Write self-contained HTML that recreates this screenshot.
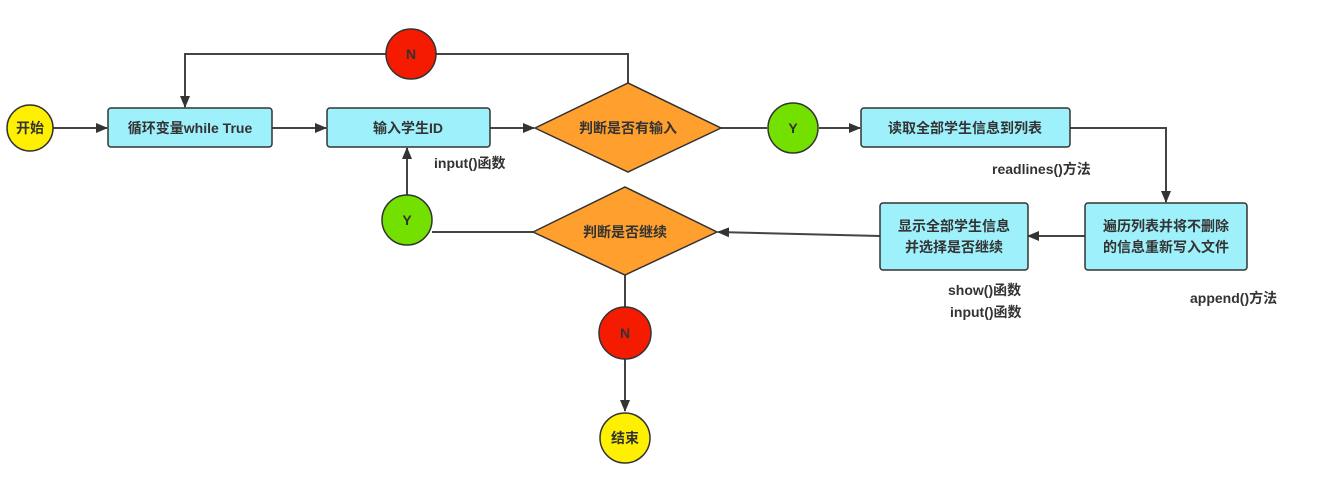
<!DOCTYPE html>
<html><head><meta charset="utf-8"><style>
html,body{margin:0;padding:0;background:#fff;}
svg{display:block;}
text{font-family:"Liberation Sans","Noto Sans CJK SC",sans-serif;font-size:14px;fill:#333;font-weight:bold;}
</style></head><body>
<svg width="1334" height="494" viewBox="0 0 1334 494" xmlns="http://www.w3.org/2000/svg">
<defs><marker id="a" markerWidth="12" markerHeight="10" refX="11" refY="5" orient="auto" markerUnits="userSpaceOnUse"><path d="M0,0 L12,5 L0,10 z" fill="#333"/></marker></defs>
<g stroke="#444" stroke-width="2" fill="none">
<line x1="53" y1="128" x2="107" y2="128" marker-end="url(#a)"/>
<line x1="272" y1="128" x2="326" y2="128" marker-end="url(#a)"/>
<line x1="490" y1="128" x2="534" y2="128" marker-end="url(#a)"/>
<polyline points="628,83 628,54 185,54 185,107" marker-end="url(#a)"/>
<line x1="721" y1="128" x2="767" y2="128"/>
<line x1="819" y1="128" x2="860" y2="128" marker-end="url(#a)"/>
<polyline points="1070,128 1166,128 1166,202" marker-end="url(#a)"/>
<line x1="1085" y1="236" x2="1028" y2="236" marker-end="url(#a)"/>
<line x1="880" y1="236" x2="718" y2="232" marker-end="url(#a)"/>
<line x1="533" y1="232" x2="432" y2="232"/>
<line x1="407" y1="195" x2="407" y2="148" marker-end="url(#a)"/>
<line x1="625" y1="275" x2="625" y2="307"/>
<line x1="625" y1="359" x2="625" y2="411" marker-end="url(#a)"/>
</g>
<g stroke="#333" stroke-width="1.5">
<circle cx="30" cy="128" r="23" fill="#ffef00"/>
<rect x="108" y="108" width="164" height="39" rx="3" fill="#9ef0fb"/>
<rect x="327" y="108" width="163" height="39" rx="3" fill="#9ef0fb"/>
<polygon points="535,128 628,83 721,128 628,172" fill="#ff9f2e"/>
<circle cx="411" cy="54" r="25" fill="#f41b00"/>
<circle cx="793" cy="128" r="25" fill="#74e000"/>
<rect x="861" y="108" width="209" height="39" rx="3" fill="#9ef0fb"/>
<rect x="1085" y="203" width="162" height="67" rx="3" fill="#9ef0fb"/>
<rect x="880" y="203" width="148" height="67" rx="3" fill="#9ef0fb"/>
<polygon points="533,232 625,187 717,232 625,275" fill="#ff9f2e"/>
<circle cx="407" cy="220" r="25" fill="#74e000"/>
<circle cx="625" cy="333" r="26" fill="#f41b00"/>
<circle cx="625" cy="438" r="25" fill="#ffef00"/>
</g>
<g text-anchor="middle">
<text x="30" y="133">开始</text>
<text x="190" y="133">循环变量while True</text>
<text x="408" y="133">输入学生ID</text>
<text x="628" y="133">判断是否有输入</text>
<text x="411" y="59">N</text>
<text x="793" y="133">Y</text>
<text x="965" y="133">读取全部学生信息到列表</text>
<text x="1166" y="231">遍历列表并将不删除</text>
<text x="1166" y="252">的信息重新写入文件</text>
<text x="954" y="231">显示全部学生信息</text>
<text x="954" y="252">并选择是否继续</text>
<text x="625" y="237">判断是否继续</text>
<text x="407" y="225">Y</text>
<text x="625" y="338">N</text>
<text x="625" y="443">结束</text>
</g>
<text x="434" y="168">input()函数</text>
<text x="992" y="174">readlines()方法</text>
<text x="948" y="295">show()函数</text>
<text x="950" y="317">input()函数</text>
<text x="1190" y="303">append()方法</text>
</svg>
</body></html>
